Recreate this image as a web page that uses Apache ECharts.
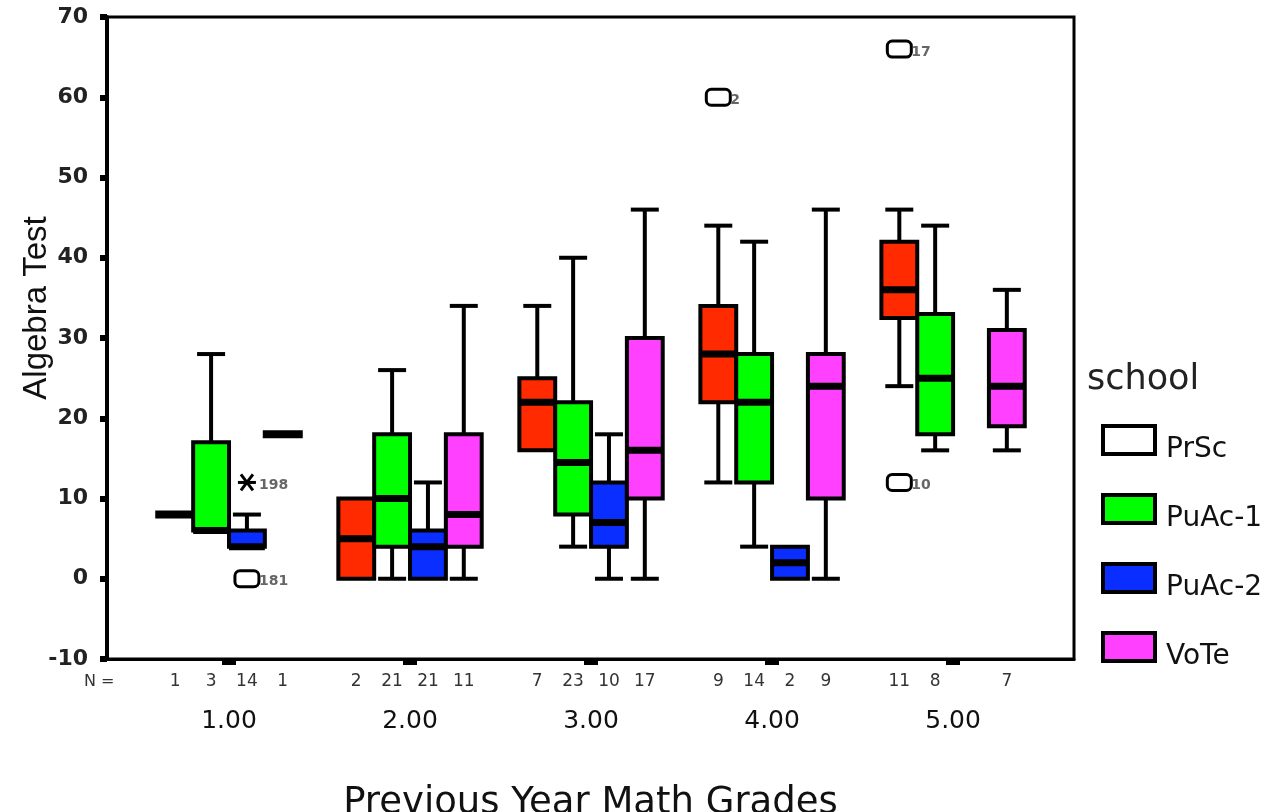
<!DOCTYPE html>
<html>
<head>
<meta charset="utf-8">
<script src="https://cdn.jsdelivr.net/npm/echarts@6/dist/echarts.min.js"></script>
<style>
html,body{margin:0;padding:0;background:#fff;}
#chart{width:1270px;height:812px;}
</style>
</head>
<body>
<div id="chart"></div>
<script>
// ---- data ----
const groupLabels = ['1.00', '2.00', '3.00', '4.00', '5.00'];
const groupValues = [1, 2, 3, 4, 5];
const schools = ['PrSc', 'PuAc-1', 'PuAc-2', 'VoTe'];
// [min, Q1, median, Q3, max] per group
const prsc  = [[8, 8, 8, 8, 8], [0, 0, 5, 10, 10], [16, 16, 22, 25, 34], [12, 22, 28, 34, 44], [24, 32.5, 36, 42, 46]];
const puac1 = [[6, 6, 6, 17, 28], [0, 4, 10, 18, 26], [4, 8, 14.5, 22, 40], [4, 12, 22, 28, 42], [16, 18, 25, 33, 44]];
const puac2 = [[4, 4, 4, 6, 8], [0, 0, 4, 6, 12], [0, 4, 7, 12, 18], [0, 0, 2, 4, 4], null];
const vote  = [[18, 18, 18, 18, 18], [0, 4, 8, 18, 34], [0, 10, 16, 30, 46], [0, 10, 24, 28, 46], [16, 19, 24, 31, 36]];
const prscN  = [1, 2, 7, 9, 11];
const puac1N = [3, 21, 23, 14, 8];
const puac2N = [14, 21, 10, 2, null];
const voteN  = [1, 11, 17, 9, 7];
// outliers
const outlierSchool = [2, 2, 0, 0, 0];
const outlierGroup  = [1, 1, 4, 5, 5];
const outlierValue  = [12, 0, 60, 66, 12];
const outlierCase   = ['198', '181', '2', '17', '10'];
const outlierKind   = ['extreme', 'outlier', 'outlier', 'outlier', 'outlier'];
const yTicks = [-10, 0, 10, 20, 30, 40, 50, 60, 70];

const colors = ['#FF2A00', '#00FF00', '#0A2EFF', '#FF40FF'];
const stats = [prsc, puac1, puac2, vote];
const counts = [prscN, puac1N, puac2N, voteN];
const SLOT = [-0.297, -0.099, 0.099, 0.297];
const BOXW = 0.198;
const FONT = 'DejaVu Sans';

function renderBox(params, api) {
  const si = params.seriesIndex;
  const x = api.value(0) + SLOT[si];
  const vMin = api.value(1), vQ1 = api.value(2), vMed = api.value(3), vQ3 = api.value(4), vMax = api.value(5);
  const n = api.value(6);
  const cx = api.coord([x, vMed])[0];
  const yMin = api.coord([x, vMin])[1];
  const yQ1 = api.coord([x, vQ1])[1];
  const yMed = api.coord([x, vMed])[1];
  const yQ3 = api.coord([x, vQ3])[1];
  const yMax = api.coord([x, vMax])[1];
  const yBase = api.coord([x, -10])[1];
  const hw = api.size([BOXW, 0])[0] / 2;
  const cap = 14;
  const ch = [];
  const lineStyle = { stroke: '#000', lineWidth: 4 };
  if (vQ1 === vQ3) {
    ch.push({ type: 'rect', shape: { x: cx - 20, y: yMed - 4, width: 40, height: 8 }, style: { fill: '#000' } });
  } else {
    if (vMax > vQ3) {
      ch.push({ type: 'line', shape: { x1: cx, y1: yQ3, x2: cx, y2: yMax }, style: lineStyle });
      ch.push({ type: 'line', shape: { x1: cx - cap, y1: yMax, x2: cx + cap, y2: yMax }, style: lineStyle });
    }
    if (vMin < vQ1) {
      ch.push({ type: 'line', shape: { x1: cx, y1: yQ1, x2: cx, y2: yMin }, style: lineStyle });
      ch.push({ type: 'line', shape: { x1: cx - cap, y1: yMin, x2: cx + cap, y2: yMin }, style: lineStyle });
    }
    ch.push({ type: 'rect', shape: { x: cx - hw, y: yQ3, width: hw * 2, height: yQ1 - yQ3 },
      style: { fill: colors[si], stroke: '#000', lineWidth: 4 } });
    ch.push({ type: 'rect', shape: { x: cx - hw, y: yMed - 3.5, width: hw * 2, height: 7 }, style: { fill: '#000' } });
  }
  ch.push({ type: 'text', x: cx, y: yBase + 23,
    style: { text: String(n), fill: '#333', font: '17px "' + FONT + '"', align: 'center', verticalAlign: 'middle' } });
  return { type: 'group', children: ch };
}

function renderOutlier(params, api) {
  const si = api.value(0);
  const x = api.value(1) + SLOT[si];
  const [cx, cy] = api.coord([x, api.value(2)]);
  const kind = api.value(4);
  const ch = [];
  if (kind === 'extreme') {
    const s = { stroke: '#000', lineWidth: 3 };
    ch.push({ type: 'line', shape: { x1: cx - 9, y1: cy, x2: cx + 9, y2: cy }, style: s });
    ch.push({ type: 'line', shape: { x1: cx - 6, y1: cy - 8, x2: cx + 6, y2: cy + 8 }, style: s });
    ch.push({ type: 'line', shape: { x1: cx - 6, y1: cy + 8, x2: cx + 6, y2: cy - 8 }, style: s });
  } else {
    ch.push({ type: 'rect', shape: { x: cx - 12, y: cy - 8, width: 24, height: 16, r: 5 },
      style: { fill: '#fff', stroke: '#000', lineWidth: 3 } });
  }
  ch.push({ type: 'text', x: cx + 12, y: cy + 3,
    style: { text: String(api.value(3)), fill: '#666', font: 'bold 14px "' + FONT + '"', align: 'left', verticalAlign: 'middle' } });
  return { type: 'group', children: ch };
}

const series = schools.map((name, si) => ({
  name: name,
  type: 'custom',
  renderItem: renderBox,
  itemStyle: { color: colors[si] },
  encode: { x: 0, y: [1, 5] },
  clip: false,
  data: groupValues.map((g, gi) => stats[si][gi] ? [g].concat(stats[si][gi], [counts[si][gi]]) : null).filter(d => d)
}));

series.push({
  name: 'outliers',
  type: 'custom',
  renderItem: renderOutlier,
  encode: { x: 1, y: 2 },
  clip: false,
  z: 5,
  data: outlierValue.map((v, i) => [outlierSchool[i], outlierGroup[i], v, outlierCase[i], outlierKind[i]])
});

const chart = echarts.init(document.getElementById('chart'), null, { renderer: 'canvas' });
chart.setOption({
  animation: false,
  backgroundColor: '#fff',
  title: {
    text: 'school', left: 1087, top: 362, padding: 0,
    textStyle: { fontFamily: FONT, fontSize: 35, fontWeight: 'normal', color: '#222' }
  },
  legend: {
    orient: 'vertical', left: 1101, top: 416, padding: 0,
    itemWidth: 52, itemHeight: 28, itemGap: 21,
    selectedMode: false,
    formatter: '{a|{name}}',
    textStyle: {
      rich: { a: { fontFamily: FONT, fontSize: 28, color: '#111', padding: [20, 0, 0, 6], lineHeight: 28 } }
    },
    data: [
      { name: 'PrSc', icon: 'rect', itemStyle: { color: '#fff', borderColor: '#000', borderWidth: 4 } },
      { name: 'PuAc-1', icon: 'rect', itemStyle: { color: colors[1], borderColor: '#000', borderWidth: 4 } },
      { name: 'PuAc-2', icon: 'rect', itemStyle: { color: colors[2], borderColor: '#000', borderWidth: 4 } },
      { name: 'VoTe', icon: 'rect', itemStyle: { color: colors[3], borderColor: '#000', borderWidth: 4 } }
    ]
  },
  grid: {
    left: 107, right: 196, top: 17, bottom: 153, show: true,
    outerBoundsMode: 'none', containLabel: false,
    borderColor: '#000', borderWidth: 3, backgroundColor: '#fff'
  },
  xAxis: {
    type: 'value', min: 0.326, max: 5.668,
    name: 'Previous Year Math Grades', nameLocation: 'middle', nameGap: 126, nameMoveOverlap: false,
    nameTextStyle: { fontFamily: FONT, fontSize: 37, color: '#111', verticalAlign: 'top' },
    axisLine: { onZero: false, lineStyle: { color: '#000', width: 3 } },
    axisTick: { show: true, customValues: groupValues, length: 6, lineStyle: { color: '#000', width: 14 } },
    axisLabel: {
      customValues: groupValues, margin: 50,
      formatter: v => groupLabels[groupValues.indexOf(v)] || '',
      fontFamily: FONT, fontSize: 25, color: '#111'
    },
    splitLine: { show: false }
  },
  yAxis: {
    type: 'value', min: -10, max: 70, interval: 10,
    name: 'Algebra Test', nameLocation: 'middle', nameGap: 54, nameRotate: 90, nameMoveOverlap: false,
    nameTextStyle: { fontFamily: '"Liberation Sans Narrow", "Liberation Sans"', fontSize: 33, color: '#111', padding: [0, 0, 0, 60] },
    axisLine: { show: true, onZero: false, lineStyle: { color: '#000', width: 4 } },
    axisTick: { show: true, length: 7, lineStyle: { color: '#000', width: 6 } },
    axisLabel: {
      margin: 19, fontFamily: FONT, fontWeight: 'bold', fontSize: 22, color: '#222',
      formatter: v => (yTicks.indexOf(v) >= 0 ? String(v) : '')
    },
    splitLine: { show: false }
  },
  graphic: [
    { type: 'text', left: 84, top: 674, style: { text: 'N =', font: '16px "' + FONT + '"', fill: '#333' } }
  ],
  series: series
});
</script>
</body>
</html>
